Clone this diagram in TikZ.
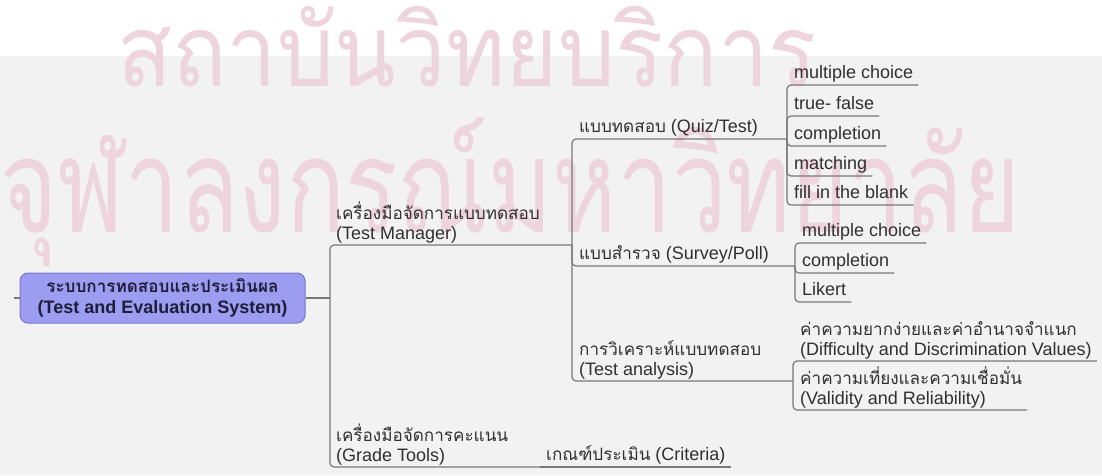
\documentclass[tikz,border=0pt]{standalone}
\usepackage{fontspec}
\usepackage{graphicx}
\setmainfont{Liberation Sans}
\newfontfamily\thai[Script=Thai,Scale=0.95]{Loma}
\newfontfamily\thaimark[Script=Thai]{Loma}

\definecolor{bandgray}{RGB}{242,242,242}
\definecolor{linegray}{RGB}{120,120,120}
\definecolor{labeltext}{RGB}{48,48,48}
\definecolor{rootfill}{RGB}{156,156,240}
\definecolor{rootedge}{RGB}{118,118,205}
\definecolor{roottext}{RGB}{30,30,60}
\definecolor{markpink}{RGB}{238,212,220}

\begin{document}
\begin{tikzpicture}[x=1pt,y=-1pt,
  branch/.style={draw=linegray,line width=1.2pt,rounded corners=4pt},
  topic/.style={anchor=south west,inner xsep=5pt,inner ysep=1.5pt,
    text=labeltext,font=\fontsize{18}{20.5}\selectfont},
  single/.style={topic,text depth=4.5pt},
  pair/.style={topic,align=left},
  rootbox/.style={draw=rootedge,fill=rootfill,line width=1pt,
    rounded corners=8pt,minimum width=285pt,minimum height=50pt,
    align=center,text=roottext,font=\bfseries\fontsize{18}{21}\selectfont},
  stamp/.style={text=markpink,inner sep=0pt,anchor=base west}
]
\useasboundingbox (0,0) rectangle (1102,475);
\fill[white] (0,0) rectangle (1102,475);
\fill[bandgray] (0,56) rectangle (1102,475);

% faint institutional mark behind the map
\node[stamp] (mark1) at (117,86)
  {\resizebox{700pt}{\height}{\thaimark\fontsize{100}{100}\selectfont สถาบันวิทยบริการ}};
\node[stamp] (mark2) at (0,232)
  {\resizebox{1020pt}{\height}{\thaimark\fontsize{131}{131}\selectfont จุฬาลงกรณ์มหาวิทยาลัย}};

% central topic
\node[rootbox] (root) at (162.5,298)
  {{\thai ระบบการทดสอบและประเมินผล}\\(Test and Evaluation System)};
\coordinate (stub) at (14,298);
\draw[branch] (stub) -- (root.west);

% junctions where each parent line meets its children
\coordinate (j0) at (330,298);
\coordinate (j1) at (572,245);
\coordinate (j2) at (787,139);
\coordinate (j3) at (795,266);
\coordinate (j5) at (793,381);
\coordinate (j4) at (540,467);

% main topics
\node[pair] (tm) at (331,245) {{\thai เครื่องมือจัดการแบบทดสอบ}\\(Test Manager)};
\node[pair] (gt) at (331,467) {{\thai เครื่องมือจัดการคะแนน}\\(Grade Tools)};
\draw[branch] (root.east) -- (j0);
\draw[branch] (j0) |- (j1);
\draw[branch] (j0) |- (j4);

% grade tools
\node[single] (cr) at (541,467) {{\thai เกณฑ์ประเมิน} (Criteria)};
\draw[branch] (j4) -- (cr.south east);

% test manager
\node[single] (quiz) at (574,139) {{\thai แบบทดสอบ} (Quiz/Test)};
\node[single] (poll) at (574,266) {{\thai แบบสำรวจ} (Survey/Poll)};
\node[pair] (ana) at (574,381) {{\thai การวิเคราะห์แบบทดสอบ}\\(Test analysis)};
\draw[branch] (j1) |- (j2);
\draw[branch] (j1) |- (j3);
\draw[branch] (j1) |- (j5);

% quiz / test types
\node[single] (q1) at (789,85) {multiple choice};
\node[single] (q2) at (789,116) {true- false};
\node[single] (q3) at (789,146) {completion};
\node[single] (q4) at (789,176) {matching};
\node[single] (q5) at (789,205) {fill in the blank};
\foreach \n in {q1,q2,q3,q4,q5} \draw[branch] (j2) |- (\n.south east);

% survey / poll types
\node[single] (p1) at (797,243) {multiple choice};
\node[single] (p2) at (797,273) {completion};
\node[single] (p3) at (797,302) {Likert};
\foreach \n in {p1,p2,p3} \draw[branch] (j3) |- (\n.south east);

% test analysis
\node[pair] (a1) at (795,361) {{\thai ค่าความยากง่ายและค่าอำนาจจำแนก}\\(Difficulty and Discrimination Values)};
\node[pair] (a2) at (795,410) {{\thai ค่าความเที่ยงและความเชื่อมั่น}\\(Validity and Reliability)};
\foreach \n in {a1,a2} \draw[branch] (j5) |- (\n.south east);
\end{tikzpicture}
\end{document}
